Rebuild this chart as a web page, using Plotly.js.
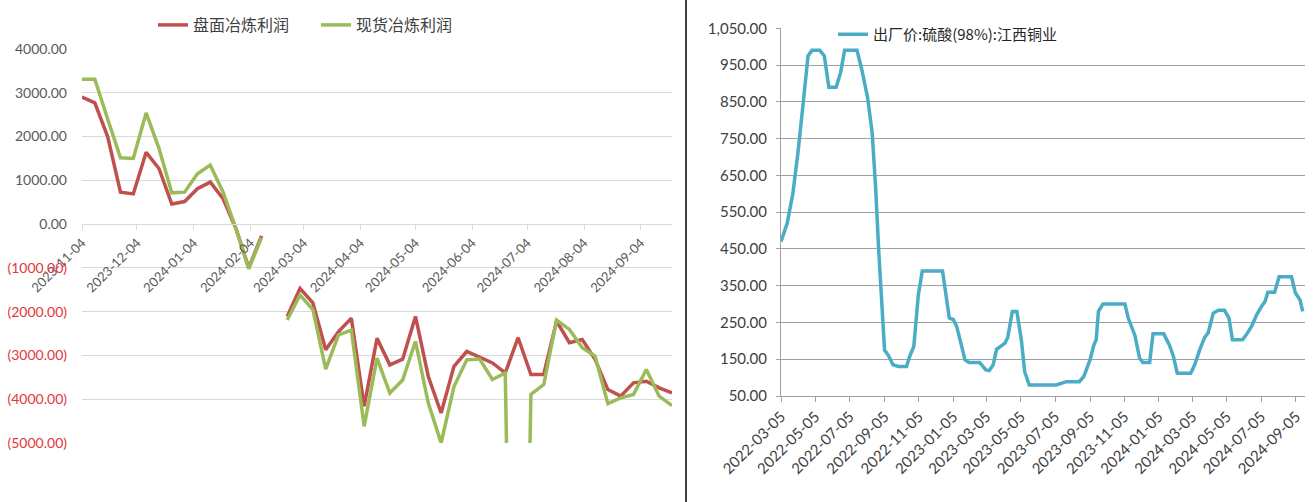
<!DOCTYPE html>
<html>
<head>
<meta charset="utf-8">
<script src="https://cdn.plot.ly/plotly-3.0.1.min.js"></script>
<style>
  html, body { margin: 0; padding: 0; background: #ffffff; }
  #chart { width: 1314px; height: 502px; }
</style>
</head>
<body>
<div id="chart"></div>
<script>
// ---------- Left chart: smelting profit (weekly) ----------
const leftDates = [
  '2023-11-04','2023-11-11','2023-11-18','2023-11-25','2023-12-02','2023-12-09','2023-12-16','2023-12-23','2023-12-30',
  '2024-01-06','2024-01-13','2024-01-20','2024-01-27','2024-02-03','2024-02-10','2024-02-17','2024-02-24',
  '2024-03-02','2024-03-09','2024-03-16','2024-03-23','2024-03-30','2024-04-06','2024-04-13','2024-04-20','2024-04-27',
  '2024-05-04','2024-05-11','2024-05-18','2024-05-25','2024-06-01','2024-06-08','2024-06-15','2024-06-22','2024-06-29',
  '2024-07-06','2024-07-13','2024-07-20','2024-07-27','2024-08-03','2024-08-10','2024-08-17','2024-08-24','2024-08-31',
  '2024-09-07','2024-09-14','2024-09-21'
];
const futuresProfit = [
  2900, 2770, 2000, 730, 690, 1640, 1270, 460, 515,
  810, 960, 580, -100, -1000, -270, null, -2110,
  -1470, -1800, -2870, -2455, -2150, -4160, -2610, -3215, -3085,
  -2110, -3480, -4315, -3250, -2910, -3040, -3170, -3400, -2595,
  -3435, -3435, -2215, -2710, -2635, -3090, -3780, -3930, -3625,
  -3590, -3740, -3855
];
const spotProfit = [
  3310, 3310, 2400, 1515, 1500, 2540, 1730, 715, 730,
  1150, 1350, 730, -100, -1020, -310, null, -2190,
  -1620, -1950, -3310, -2530, -2420, -4620, -3060, -3860, -3560,
  -2680, -4090, -5000, -3710, -3100, -3080, -3550, -3400, -20000,
  -3890, -3665, -2190, -2405, -2825, -3015, -4100, -3970, -3890,
  -3320, -3930, -4145
];
const leftYTicks = [4000, 3000, 2000, 1000, 0, -1000, -2000, -3000, -4000, -5000];
const leftYTickText = ['4000.00','3000.00','2000.00','1000.00','0.00',
  '(1000.00)','(2000.00)','(3000.00)','(4000.00)','(5000.00)'];
const leftNames = ['盘面冶炼利润', '现货冶炼利润'];

// ---------- Right chart: sulfuric acid ex-factory price ----------
const acidDates = [
  '2022-03-05','2022-03-16','2022-03-26','2022-04-04','2022-04-13','2022-04-22','2022-04-29','2022-05-13','2022-05-21',
  '2022-05-29','2022-06-11','2022-06-19','2022-06-26','2022-07-18','2022-07-27','2022-08-06','2022-08-14','2022-08-20',
  '2022-08-26','2022-09-01','2022-09-05','2022-09-12','2022-09-20','2022-09-30','2022-10-14','2022-10-19','2022-10-27',
  '2022-11-04','2022-11-11','2022-12-17','2022-12-29','2023-01-05','2023-01-11','2023-01-26','2023-02-02','2023-02-21',
  '2023-03-04','2023-03-10','2023-03-17','2023-03-23','2023-04-01','2023-04-07','2023-04-12','2023-04-20','2023-04-28',
  '2023-05-06','2023-05-12','2023-05-20','2023-07-07','2023-07-25','2023-08-17','2023-08-25','2023-09-05','2023-09-12',
  '2023-09-16','2023-09-20','2023-09-28','2023-11-06','2023-11-12','2023-11-18','2023-11-24','2023-12-02','2023-12-08',
  '2023-12-20','2023-12-26','2024-01-14','2024-01-24','2024-01-31','2024-02-07','2024-03-02','2024-03-09','2024-03-18',
  '2024-03-27','2024-04-02','2024-04-11','2024-04-20','2024-05-01','2024-05-09','2024-05-15','2024-06-02','2024-06-09',
  '2024-06-18','2024-06-27','2024-07-06','2024-07-12','2024-07-17','2024-07-29','2024-08-06','2024-08-28','2024-09-04',
  '2024-09-12','2024-09-17'
];
const acidPrice = [
  470, 520, 600, 710, 840, 975, 990, 990, 975,
  890, 890, 930, 990, 990, 935, 860, 765, 620,
  435, 290, 175, 160, 135, 130, 130, 155, 185,
  325, 390, 390, 262, 258, 240, 148, 141, 141,
  121, 119, 135, 177, 189, 194, 210, 280, 280,
  203, 116, 80, 80, 89, 89, 103, 148, 189,
  203, 280, 300, 300, 262, 235, 214, 153, 141,
  141, 219, 219, 189, 159, 112, 112, 135, 176,
  210, 222, 275, 283, 283, 262, 203, 203, 217,
  239, 271, 294, 307, 332, 332, 374, 374, 330,
  312, 280
];
const acidName = '出厂价:硫酸(98%):江西铜业';

// ---------- Layout geometry ----------
const W = 1314, H = 502;
const lx0 = 82 / W, lx1 = 672 / W;
const ly0 = 1 - 443 / H, ly1 = 1 - 49 / H;
const lRange = [-5000, 4000];
const zeroPos = ly0 + (0 - lRange[0]) / (lRange[1] - lRange[0]) * (ly1 - ly0);
const rx0 = 781 / W, rx1 = 1305 / W;
const ry0 = 1 - 396 / H, ry1 = 1 - 28.3 / H;

const numFont = 'Lato, "Noto Sans CJK SC", sans-serif';
const cjkFont = '"Noto Sans CJK SC", "Noto Sans", sans-serif';

const coloredTickText = leftYTickText.map((t, i) =>
  leftYTicks[i] < 0 ? '<span style="color:#e2363b">' + t + '</span>' : t);

const traces = [
  { x: leftDates, y: futuresProfit, name: leftNames[0], type: 'scatter', mode: 'lines',
    line: { color: '#c0504d', width: 3.5 }, xaxis: 'x', yaxis: 'y', legend: 'legend', connectgaps: false },
  { x: leftDates, y: spotProfit, name: leftNames[1], type: 'scatter', mode: 'lines',
    line: { color: '#9bbb59', width: 3.5 }, xaxis: 'x', yaxis: 'y', legend: 'legend', connectgaps: false },
  { x: acidDates, y: acidPrice, name: acidName, type: 'scatter', mode: 'lines',
    line: { color: '#4bacc6', width: 3.5 }, xaxis: 'x2', yaxis: 'y2', legend: 'legend2' }
];

const layout = {
  width: W, height: H, autosize: false,
  margin: { l: 0, r: 0, t: 0, b: 0 },
  paper_bgcolor: '#ffffff', plot_bgcolor: 'rgba(0,0,0,0)',
  font: { family: numFont, color: '#595959', size: 13 },
  showlegend: true,
  xaxis: {
    type: 'date', domain: [lx0, lx1], anchor: 'free', position: zeroPos,
    range: ['2023-11-04', '2024-09-21'],
    tick0: '2023-11-04', dtick: 'M1', tickformat: '%Y-%m-%d', tickangle: -45,
    ticks: 'outside', ticklen: 5, tickcolor: '#d9d9d9',
    showline: true, linecolor: '#d9d9d9', linewidth: 1,
    showgrid: false, zeroline: false,
    tickfont: { family: numFont, size: 13, color: '#595959' }
  },
  yaxis: {
    domain: [ly0, ly1], anchor: 'x', range: lRange,
    tickmode: 'array', tickvals: leftYTicks, ticktext: coloredTickText,
    showgrid: true, gridcolor: '#d9d9d9', gridwidth: 1, zeroline: false,
    showline: false, ticks: '', ticklabelstandoff: 14,
    tickfont: { family: numFont, size: 14, color: '#595959' }
  },
  xaxis2: {
    type: 'date', domain: [rx0, rx1], anchor: 'y2',
    range: ['2022-03-05', '2024-09-21'],
    tick0: '2022-03-05', dtick: 'M2', tickformat: '%Y-%m-%d', tickangle: -45,
    ticks: 'outside', ticklen: 5, tickcolor: '#a0a0a0',
    showline: true, linecolor: '#a0a0a0', linewidth: 1,
    showgrid: false, zeroline: false,
    tickfont: { family: numFont, size: 15, color: '#404040' }
  },
  yaxis2: {
    domain: [ry0, ry1], anchor: 'x2', range: [50, 1050],
    tick0: 50, dtick: 100, tickformat: ',.2f',
    showgrid: true, gridcolor: '#a0a0a0', gridwidth: 1, zeroline: false,
    showline: true, linecolor: '#a0a0a0', linewidth: 1,
    ticks: 'outside', ticklen: 4, tickcolor: '#a0a0a0', ticklabelstandoff: 6,
    tickfont: { family: numFont, size: 15, color: '#404040' }
  },
  legend: {
    orientation: 'h', x: 153 / W, xanchor: 'left', y: 1 - 8 / H, yanchor: 'top',
    bgcolor: 'rgba(0,0,0,0)', font: { family: cjkFont, size: 16, color: '#404040' },
    itemwidth: 30, tracegroupgap: 0, entrywidth: 118, entrywidthmode: 'pixels'
  },
  legend2: {
    orientation: 'h', x: 833 / W, xanchor: 'left', y: 1 - 18 / H, yanchor: 'top',
    bgcolor: 'rgba(0,0,0,0)', font: { family: cjkFont, size: 15, color: '#262626' },
    itemwidth: 30
  },
  shapes: [
    { type: 'line', xref: 'paper', yref: 'paper', x0: 686 / W, x1: 686 / W, y0: 0, y1: 1,
      line: { color: '#000000', width: 1.5 } }
  ]
};

Plotly.newPlot('chart', traces, layout, { displayModeBar: false, staticPlot: true });
</script>
</body>
</html>
